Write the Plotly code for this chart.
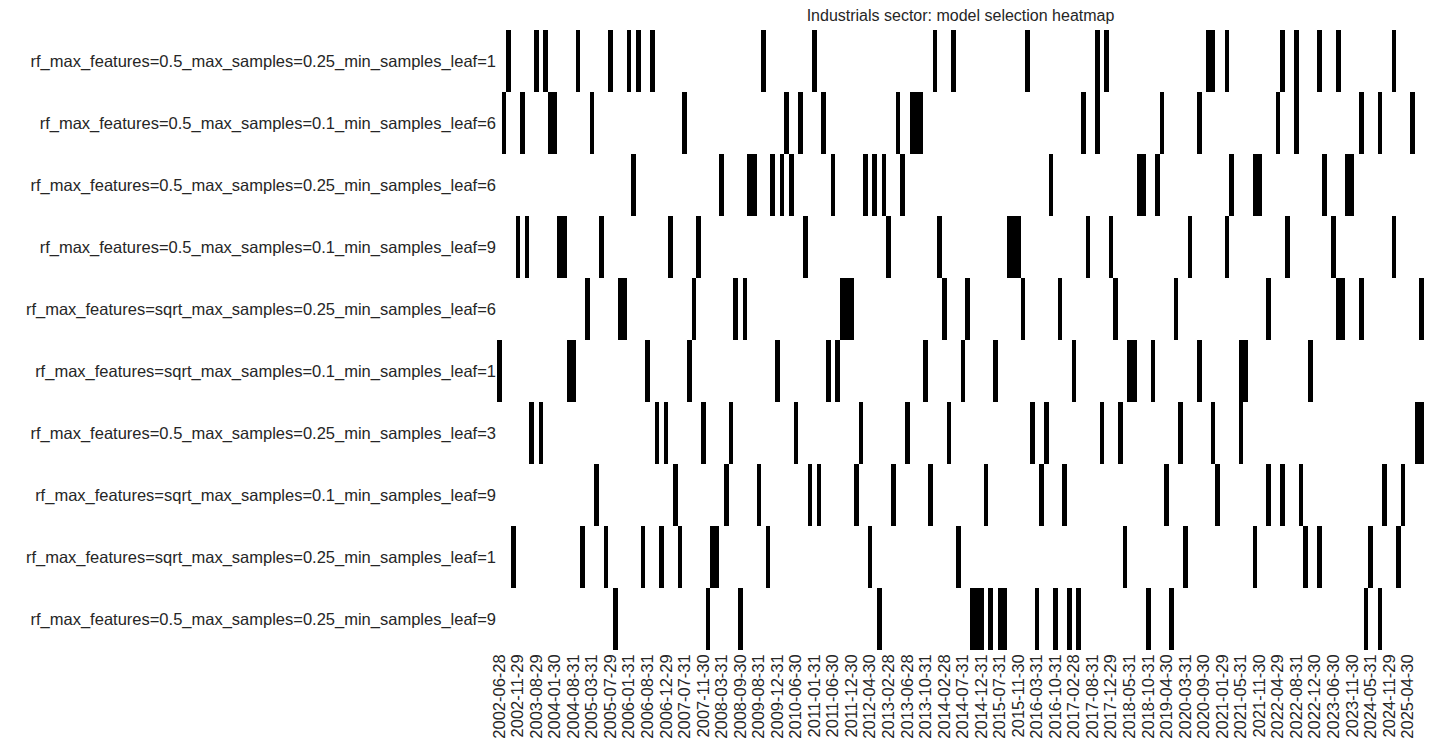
import plotly.graph_objects as go

models = [
    "rf_max_features=0.5_max_samples=0.25_min_samples_leaf=1",
    "rf_max_features=0.5_max_samples=0.1_min_samples_leaf=6",
    "rf_max_features=0.5_max_samples=0.25_min_samples_leaf=6",
    "rf_max_features=0.5_max_samples=0.1_min_samples_leaf=9",
    "rf_max_features=sqrt_max_samples=0.25_min_samples_leaf=6",
    "rf_max_features=sqrt_max_samples=0.1_min_samples_leaf=1",
    "rf_max_features=0.5_max_samples=0.25_min_samples_leaf=3",
    "rf_max_features=sqrt_max_samples=0.1_min_samples_leaf=9",
    "rf_max_features=sqrt_max_samples=0.25_min_samples_leaf=1",
    "rf_max_features=0.5_max_samples=0.25_min_samples_leaf=9",
]

tick_labels = ["2002-06-28","2002-11-29","2003-08-29","2004-01-30","2004-08-31","2005-03-31",
    "2005-07-29","2006-01-31","2006-08-31","2006-12-29","2007-07-31","2007-11-30","2008-03-31",
    "2008-09-30","2009-08-31","2009-12-31","2010-06-30","2011-01-31","2011-06-30","2011-12-30",
    "2012-04-30","2013-02-28","2013-06-28","2013-10-31","2014-02-28","2014-07-31","2014-12-31",
    "2015-07-31","2015-11-30","2016-03-31","2016-10-31","2017-02-28","2017-08-31","2017-12-29",
    "2018-05-31","2018-10-31","2019-04-30","2020-03-31","2020-09-30","2021-01-29","2021-05-31",
    "2021-11-30","2022-04-29","2022-08-31","2022-12-30","2023-06-30","2023-11-30","2024-05-31",
    "2024-11-29","2025-04-30"]

n_cols = 200
tick_step = 4

# selected column indices per model (row)
selected = [
    [2,8,10,17,24,28,30,33,57,68,94,98,114,129,131,153,154,157,169,172,177,181,193],
    [1,5,11,12,20,40,62,65,70,86,89,90,91,126,129,143,151,168,172,186,190,197],
    [29,48,54,55,59,61,63,72,79,81,83,87,119,138,139,142,158,163,164,178,183,184],
    [4,6,13,14,22,37,43,66,84,95,110,111,112,127,132,149,157,170,180,193],
    [19,26,27,42,51,53,74,75,76,96,101,113,121,133,146,166,181,182,186,199],
    [0,15,16,32,41,60,71,73,92,100,107,124,136,137,141,151,160,161,175],
    [7,9,34,36,44,50,64,78,88,97,115,118,130,134,147,154,160,198,199],
    [21,38,49,56,67,69,77,85,93,105,117,122,144,155,166,169,173,191,195],
    [3,18,23,31,35,39,46,47,58,80,99,135,148,163,174,177,188,194],
    [25,45,52,82,102,103,104,106,108,109,116,120,123,125,140,145,187,190],
]

z = [[1 if c in sel else 0 for c in range(n_cols)] for sel in selected]

fig = go.Figure(go.Heatmap(
    z=z, x=list(range(n_cols)), y=models,
    colorscale=[[0, "white"], [1, "black"]], zmin=0, zmax=1,
    showscale=False, xgap=0, ygap=0, hoverongaps=False,
))

fig.update_layout(
    width=1437, height=754,
    margin=dict(l=489, r=21, t=22, b=112, autoexpand=False),
    plot_bgcolor="white", paper_bgcolor="white",
    font=dict(family="Liberation Sans, Arial, sans-serif", size=16.5, color="#262626"),
    title=dict(text="Industrials sector: model selection heatmap", x=0.5, xref="paper",
               y=0.997, yanchor="top", font=dict(size=16)),
)
fig.update_xaxes(
    tickmode="array", tickvals=list(range(0, n_cols, tick_step)), ticktext=tick_labels,
    tickangle=-90, range=[-0.5, n_cols - 0.5], showgrid=False, zeroline=False,
    ticks="", tickfont=dict(size=16.5), automargin=False,
)
fig.update_yaxes(autorange="reversed", showgrid=False, zeroline=False, ticks="",
                 tickfont=dict(size=16.5), automargin=False)

fig.write_html("out.html")
